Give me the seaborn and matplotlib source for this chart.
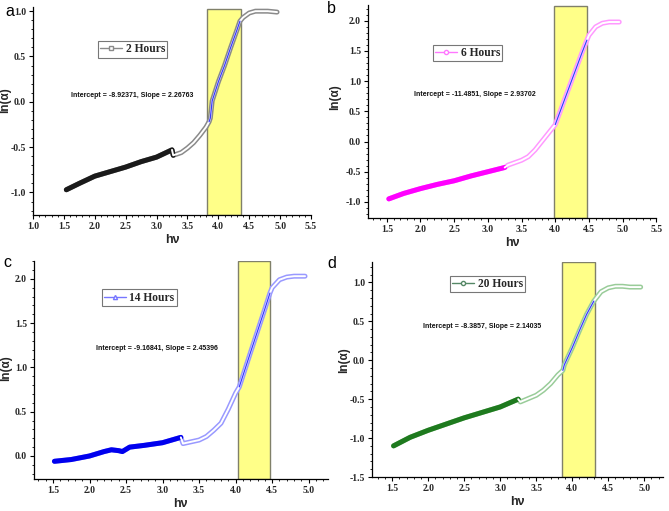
import numpy as np
import pandas as pd
import seaborn as sns
import matplotlib
matplotlib.use("Agg")
import matplotlib.pyplot as plt
from matplotlib.lines import Line2D
from matplotlib.patches import Rectangle
from matplotlib.ticker import AutoMinorLocator

# ---------------- data ----------------
hv_a = [1.54, 1.75, 2.0, 2.25, 2.5, 2.75, 3.0, 3.25, 3.27, 3.4, 3.5, 3.6, 3.7, 3.8, 3.85, 3.87,
        3.9, 4.0, 4.1, 4.2, 4.3, 4.35, 4.4, 4.5, 4.6, 4.7, 4.8, 4.95]
ln_a = [-0.97, -0.90, -0.82, -0.77, -0.72, -0.66, -0.61, -0.53, -0.59, -0.56, -0.51, -0.45, -0.37,
        -0.28, -0.22, -0.18, 0.01, 0.22, 0.40, 0.60, 0.79, 0.89, 0.93, 0.98, 1.00, 1.00, 1.00, 0.99]

hv_b = [1.53, 1.75, 2.0, 2.25, 2.5, 2.75, 3.0, 3.25, 3.3, 3.5, 3.6, 3.7, 3.8, 3.9, 4.0, 4.1,
        4.2, 4.3, 4.4, 4.47, 4.5, 4.6, 4.7, 4.8, 4.95]
ln_b = [-0.95, -0.86, -0.78, -0.71, -0.65, -0.57, -0.50, -0.43, -0.39, -0.31, -0.25, -0.14,
        0.00, 0.14, 0.28, 0.58, 0.88, 1.18, 1.48, 1.68, 1.76, 1.90, 1.96, 1.98, 1.98]

hv_c = [1.52, 1.75, 2.0, 2.2, 2.3, 2.4, 2.45, 2.55, 2.75, 3.0, 3.25, 3.28, 3.5, 3.6, 3.7, 3.8,
        3.85, 3.9, 3.95, 4.0, 4.05, 4.2, 4.3, 4.4, 4.47, 4.5, 4.6, 4.7, 4.8, 4.95]
ln_c = [-0.06, -0.04, 0.00, 0.05, 0.07, 0.06, 0.05, 0.10, 0.12, 0.15, 0.21, 0.14, 0.18, 0.22,
        0.29, 0.37, 0.45, 0.53, 0.62, 0.71, 0.78, 1.16, 1.41, 1.66, 1.84, 1.90, 1.99, 2.02, 2.03, 2.03]

hv_d = [1.52, 1.75, 2.0, 2.25, 2.5, 2.75, 3.0, 3.25, 3.28, 3.5, 3.6, 3.7, 3.8, 3.87, 3.89,
        4.0, 4.1, 4.2, 4.3, 4.4, 4.5, 4.6, 4.7, 4.8, 4.95]
ln_d = [-1.10, -0.99, -0.90, -0.82, -0.74, -0.67, -0.60, -0.50, -0.535, -0.45, -0.385, -0.30,
        -0.19, -0.13, -0.06, 0.16, 0.38, 0.59, 0.76, 0.88, 0.93, 0.95, 0.95, 0.94, 0.94]

labels = ["2 Hours", "6 Hours", "14 Hours", "20 Hours"]
fit_texts = ["Intercept = -8.92371, Slope = 2.26763",
             "Intercept = -11.4851, Slope = 2.93702",
             "Intercept = -9.16841, Slope = 2.45396",
             "Intercept = -8.3857, Slope = 2.14035"]
box_ranges = [(3.82, 4.37), (3.98, 4.47), (4.03, 4.47), (3.86, 4.31)]
panel_letters = ["a", "b", "c", "d"]

# ---------------- style ----------------
sns.set_theme(style="white")
plt.rcParams["font.family"] = ["Liberation Sans", "DejaVu Sans"]

fig = plt.figure(figsize=(6.69, 5.11), dpi=100)

panels = [
    dict(hv=hv_a, ln=ln_a, pos=[0.0493, 0.579, 0.4156, 0.408], xlim=(1.0, 5.5), ylim=(-1.25, 1.05),
         xt=np.arange(1.0, 5.51, 0.5), yt=np.arange(-1.0, 1.01, 0.5), low="#1a1a1a", high="#8a8a8a",
         leg="#8a8a8a", marker="s", box_top=1.02, leg_at=(0.234, 0.755), txt=(0.356, 0.572),
         ylab=(-0.079, 0.553)),
    dict(hv=hv_b, ln=ln_b, pos=[0.550, 0.573, 0.431, 0.417], xlim=(1.22, 5.5), ylim=(-1.27, 2.26),
         xt=np.arange(1.5, 5.51, 0.5), yt=np.arange(-1.0, 2.01, 0.5), low="#ff00ff", high="#ff99ff",
         leg="#ff77ff", marker="o", box_top=2.25, leg_at=(0.226, 0.737), txt=(0.372, 0.582),
         ylab=(-0.094, 0.568)),
    dict(hv=hv_c, ln=ln_c, pos=[0.0508, 0.0626, 0.439, 0.4264], xlim=(1.24, 5.26), ylim=(-0.26, 2.2),
         xt=np.arange(1.5, 5.01, 0.5), yt=np.arange(0.0, 2.01, 0.5), low="#0000ee", high="#9999ff",
         leg="#7777ff", marker="^", box_top=2.2, leg_at=(0.231, 0.794), txt=(0.418, 0.601),
         ylab=(-0.075, 0.509)),
    dict(hv=hv_d, ln=ln_d, pos=[0.556, 0.0665, 0.435, 0.4205], xlim=(1.22, 5.26), ylim=(-1.5, 1.26),
         xt=np.arange(1.5, 5.01, 0.5), yt=np.arange(-1.5, 1.01, 0.5), low="#1e7a1e", high="#99cc99",
         leg="#558866", marker="o", box_top=1.26, leg_at=(0.268, 0.860), txt=(0.378, 0.702),
         ylab=(-0.076, 0.544)),
]

tick_font = dict(family=["Liberation Serif", "DejaVu Serif"], weight="bold", size=7)

for i, p in enumerate(panels):
    ax = fig.add_axes(p["pos"])
    hv = np.array(p["hv"]); ln = np.array(p["ln"])
    df = pd.DataFrame({"hv": hv, "ln": ln})
    low = df[df.hv <= 3.27]
    high = df[df.hv >= 3.25]
    b0, b1 = box_ranges[i]

    # yellow band
    ax.add_patch(Rectangle((b0, p["ylim"][0]), b1 - b0, p["box_top"] - p["ylim"][0],
                           facecolor="#ffff88", edgecolor="#80806a", lw=1.0, zorder=1))

    sns.lineplot(data=df, x="hv", y="ln", sort=False, estimator=None, color=p["high"],
                 lw=3.6, ax=ax, zorder=3)
    sns.lineplot(data=low, x="hv", y="ln", sort=False, estimator=None, color=p["low"],
                 lw=3.6, ax=ax, zorder=4)
    sns.lineplot(data=high, x="hv", y="ln", sort=False, estimator=None, color="white",
                 lw=1.4, ax=ax, zorder=5)
    fit = df[(df.hv >= b0) & (df.hv <= b1)]
    sns.lineplot(data=fit, x="hv", y="ln", sort=False, estimator=None, color="#3a3aff",
                 lw=0.9, ax=ax, zorder=6)

    ax.set_xlim(*p["xlim"]); ax.set_ylim(*p["ylim"])
    ax.set_xticks(p["xt"]); ax.set_yticks(p["yt"])
    ax.set_xticklabels([f"{v:.1f}" for v in p["xt"]], **tick_font)
    ax.set_yticklabels([f"{v:.1f}" for v in p["yt"]], **tick_font)
    ax.xaxis.set_minor_locator(AutoMinorLocator(5))
    ax.yaxis.set_minor_locator(AutoMinorLocator(5))
    ax.tick_params(which="major", direction="out", length=3, width=0.8, color="black",
                   bottom=True, left=True, pad=2)
    ax.tick_params(which="minor", direction="out", length=1.6, width=0.6, color="black",
                   bottom=True, left=True)
    sns.despine(ax=ax)
    for s in ("left", "bottom"):
        ax.spines[s].set_color("black"); ax.spines[s].set_linewidth(0.9)

    ax.set_xlabel("hν", fontsize=9, fontweight="bold", labelpad=2)
    ax.set_ylabel("ln(α)", fontsize=8.5, fontweight="bold")
    ax.yaxis.set_label_coords(*p["ylab"])

    handle = Line2D([], [], color=p["leg"], lw=1.0, marker=p["marker"], ms=3,
                    mfc="white", mec=p["leg"])
    leg = ax.legend([handle], [labels[i]], loc="lower left", bbox_to_anchor=p["leg_at"],
                    borderaxespad=0, frameon=True, fancybox=False, handlelength=1.9,
                    handletextpad=0.3, borderpad=0.2,
                    prop=dict(family=["Liberation Serif", "DejaVu Serif"], weight="bold", size=8.3))
    leg.get_frame().set_edgecolor("#555555"); leg.get_frame().set_linewidth(0.8)

    ax.text(p["txt"][0], p["txt"][1], fit_texts[i], transform=ax.transAxes, ha="center",
            va="center", fontsize=5.0, fontweight="bold", color="#111111")

letter_pos = [(5 / 669, 1 - 16 / 511), (327 / 669, 1 - 13 / 511),
              (3 / 669, 1 - 267 / 511), (327 / 669, 1 - 268 / 511)]
for (x, y), l in zip(letter_pos, panel_letters):
    fig.text(x, y, l, fontsize=11.5, ha="left", va="baseline", color="black")

fig.savefig("out.png", dpi=100)
